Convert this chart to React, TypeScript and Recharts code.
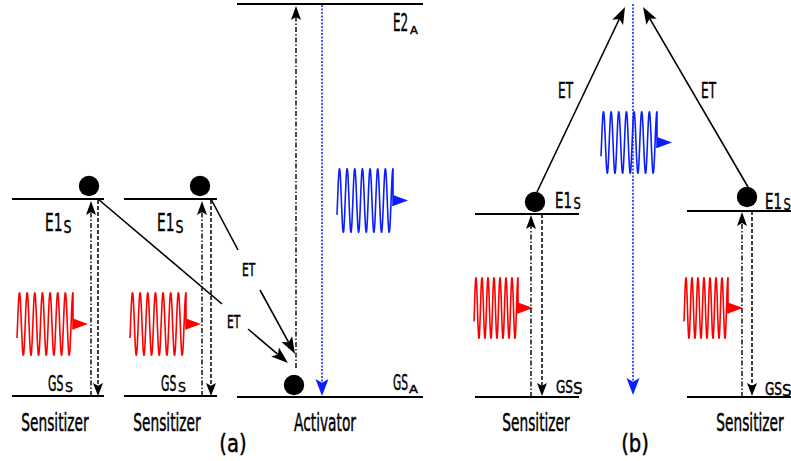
import React from 'react';
import { ScatterChart, XAxis, YAxis, ReferenceLine, ReferenceArea, Scatter } from 'recharts';

const WIDTH = 791;
const HEIGHT = 461;

// Diagram coordinates: x runs left to right, y runs top to bottom (higher energy = smaller y).
const levels = [
  { id: 'a-s1-E1', x1: 12, x2: 104, y: 199 },
  { id: 'a-s1-GS', x1: 12, x2: 104, y: 396 },
  { id: 'a-s2-E1', x1: 124, x2: 217, y: 199 },
  { id: 'a-s2-GS', x1: 124, x2: 217, y: 396 },
  { id: 'a-act-E2', x1: 237, x2: 423, y: 4 },
  { id: 'a-act-GS', x1: 237, x2: 423, y: 397 },
  { id: 'b-s1-E1', x1: 475, x2: 579, y: 214 },
  { id: 'b-s1-GS', x1: 475, x2: 579, y: 397 },
  { id: 'b-s2-E1', x1: 687, x2: 791, y: 211 },
  { id: 'b-s2-GS', x1: 687, x2: 791, y: 397 },
];

const electrons = [
  { x: 89, y: 186 },
  { x: 200, y: 186 },
  { x: 294, y: 385 },
  { x: 535, y: 202 },
  { x: 747, y: 197 },
];

// absorb = dash-dot excitation, relax = dashed decay, transfer = energy transfer (ET),
// link = ET path segment without head, emit = upconverted emission
const transitions = [
  { x1: 91, y1: 396, x2: 91, y2: 201, kind: 'absorb' },
  { x1: 98, y1: 200, x2: 98, y2: 396, kind: 'relax' },
  { x1: 202, y1: 396, x2: 202, y2: 201, kind: 'absorb' },
  { x1: 211, y1: 200, x2: 211, y2: 396, kind: 'relax' },
  { x1: 98, y1: 199, x2: 222, y2: 304, kind: 'link' },
  { x1: 248, y1: 329, x2: 288, y2: 363, kind: 'transfer' },
  { x1: 211, y1: 199, x2: 238, y2: 250, kind: 'link' },
  { x1: 260, y1: 290, x2: 295, y2: 354, kind: 'transfer' },
  { x1: 296, y1: 368, x2: 296, y2: 6, kind: 'absorb' },
  { x1: 322, y1: 5, x2: 322, y2: 396, kind: 'emit' },
  { x1: 531, y1: 397, x2: 531, y2: 215, kind: 'absorb' },
  { x1: 542, y1: 214, x2: 542, y2: 396, kind: 'relax' },
  { x1: 742, y1: 397, x2: 742, y2: 212, kind: 'absorb' },
  { x1: 752, y1: 211, x2: 752, y2: 396, kind: 'relax' },
  { x1: 537, y1: 192, x2: 625, y2: 7, kind: 'transfer' },
  { x1: 748, y1: 187, x2: 643, y2: 7, kind: 'transfer' },
  { x1: 633, y1: 4, x2: 633, y2: 395, kind: 'emit' },
];

// Photon wave packets: box spanned by the oscillation (start to last crest, crest to trough)
const photons = [
  { x1: 17, x2: 73, y1: 292, y2: 356, kind: 'pump' },
  { x1: 130, x2: 186, y1: 292, y2: 356, kind: 'pump' },
  { x1: 337, x2: 393, y1: 168, y2: 233, kind: 'emission' },
  { x1: 474, x2: 518, y1: 277, y2: 339, kind: 'pump' },
  { x1: 684, x2: 728, y1: 277, y2: 339, kind: 'pump' },
  { x1: 601, x2: 657, y1: 111, y2: 174, kind: 'emission' },
];

const labels = [
  { text: 'Sensitizer', x: 55, y: 431, kind: 'species' },
  { text: 'Sensitizer', x: 167, y: 431, kind: 'species' },
  { text: 'Activator', x: 325, y: 431, kind: 'species' },
  { text: 'Sensitizer', x: 536, y: 431, kind: 'species' },
  { text: 'Sensitizer', x: 750, y: 431, kind: 'species' },
  { text: '(a)', x: 233, y: 452, kind: 'panel' },
  { text: '(b)', x: 635, y: 452, kind: 'panel' },
  { text: 'E1', sub: 'S', x: 45, y: 231, kind: 'stateA' },
  { text: 'E1', sub: 'S', x: 157, y: 231, kind: 'stateA' },
  { text: 'GS', sub: 'S', x: 48, y: 391, kind: 'groundA' },
  { text: 'GS', sub: 'S', x: 161, y: 391, kind: 'groundA' },
  { text: 'E2', sub: 'A', x: 393, y: 31, kind: 'activator' },
  { text: 'GS', sub: 'A', x: 393, y: 390, kind: 'activatorGround' },
  { text: 'ET', x: 242, y: 276, kind: 'etA' },
  { text: 'ET', x: 227, y: 328, kind: 'etA' },
  { text: 'ET', x: 558, y: 98, kind: 'etB' },
  { text: 'ET', x: 701, y: 98, kind: 'etB' },
  { text: 'E1', sub: 'S', x: 555, y: 208, kind: 'stateB' },
  { text: 'GS', sub: 'S', x: 556, y: 393, kind: 'groundB' },
  { text: 'E1', sub: 'S', x: 765, y: 209, kind: 'stateB' },
  { text: 'GS', sub: 'S', x: 765, y: 395, kind: 'groundB' },
];

const FONT = '"DejaVu Sans", Verdana, sans-serif';
const BLUE = '#0a1eff';
const RED = '#ff0000';

type TextStyle = {
  size: number; sx: number; anchor?: 'start' | 'middle';
  sub?: number; subSx?: number; subDx?: number; subDy?: number;
};

const textStyles: Record<string, TextStyle> = {
  species: { size: 25, sx: 0.55, anchor: 'middle' },
  panel: { size: 24.5, sx: 0.8, anchor: 'middle' },
  stateA: { size: 25, sx: 0.55, sub: 18, subSx: 0.7, subDx: 18.5, subDy: 2 },
  groundA: { size: 20.5, sx: 0.53, sub: 14, subSx: 0.9, subDx: 17, subDy: 1 },
  activator: { size: 25, sx: 0.48, sub: 10.5, subSx: 1.1, subDx: 17, subDy: 3 },
  activatorGround: { size: 20.5, sx: 0.52, sub: 11, subSx: 1.2, subDx: 16, subDy: 3 },
  etA: { size: 17.5, sx: 0.61 },
  etB: { size: 20.5, sx: 0.59 },
  stateB: { size: 20.5, sx: 0.65, sub: 16.5, subSx: 0.7, subDx: 18.5, subDy: 1 },
  groundB: { size: 18, sx: 0.67, sub: 16, subSx: 0.95, subDx: 17, subDy: 1 },
};

type ArrowStyle = {
  color: string; width: number; dash?: string;
  head?: { len: number; half: number };
};

const arrowStyles: Record<string, ArrowStyle> = {
  absorb: { color: '#000', width: 1.4, dash: '5 2 1.5 2', head: { len: 14, half: 5 } },
  relax: { color: '#000', width: 1.5, dash: '4 2', head: { len: 13, half: 5 } },
  transfer: { color: '#000', width: 1.6, head: { len: 17, half: 6 } },
  link: { color: '#000', width: 1.6 },
  emit: { color: BLUE, width: 1.5, dash: '2 1.5', head: { len: 17, half: 6.5 } },
};

const photonStyles: Record<string, { color: string; headLen: number; headHalf: number }> = {
  pump: { color: RED, headLen: 15, headHalf: 5.5 },
  emission: { color: BLUE, headLen: 15, headHalf: 5.5 },
};

const arrowShape = (kind: string) => (p: any) => {
  const st = arrowStyles[kind];
  const x1 = Number(p.x1), y1 = Number(p.y1), x2 = Number(p.x2), y2 = Number(p.y2);
  const dx = x2 - x1, dy = y2 - y1;
  const L = Math.hypot(dx, dy) || 1;
  const ux = dx / L, uy = dy / L;
  const px = -uy, py = ux;
  let ex = x2, ey = y2;
  let head: React.ReactNode = null;
  if (st.head) {
    const { len, half } = st.head;
    const bx = x2 - ux * len, by = y2 - uy * len;
    const nx = x2 - ux * len * 0.78, ny = y2 - uy * len * 0.78;
    ex = nx; ey = ny;
    head = (
      <path
        d={`M${x2},${y2} L${bx + px * half},${by + py * half} L${nx},${ny} L${bx - px * half},${by - py * half} Z`}
        fill={st.color}
        stroke="none"
      />
    );
  }
  return (
    <g>
      <line x1={x1} y1={y1} x2={ex} y2={ey} stroke={st.color} strokeWidth={st.width}
        strokeDasharray={st.dash} fill="none" />
      {head}
    </g>
  );
};

const waveShape = (kind: string) => (p: any) => {
  const st = photonStyles[kind];
  const x = Number(p.x), y = Number(p.y), w = Number(p.width), h = Number(p.height);
  const mid = y + h / 2;
  const amp = h / 2 - 0.8;
  const t0 = -0.466;
  const t1 = Math.PI / 2 + 14 * Math.PI;
  const steps = 420;
  let d = '';
  for (let i = 0; i <= steps; i++) {
    const t = t0 + ((t1 - t0) * i) / steps;
    const xx = x + ((t - t0) / (t1 - t0)) * w;
    const yy = mid - amp * Math.sin(t);
    d += `${i === 0 ? 'M' : 'L'}${xx.toFixed(2)},${yy.toFixed(2)} `;
  }
  const xe = x + w;
  d += `L${xe},${mid + st.headHalf}`;
  return (
    <g>
      <path d={d} fill="none" stroke={st.color} strokeWidth={1.6} strokeLinejoin="round" />
      <path
        d={`M${xe},${mid - st.headHalf} L${xe + st.headLen},${mid} L${xe},${mid + st.headHalf} Z`}
        fill={st.color}
      />
    </g>
  );
};

const ElectronShape = (p: any) => <circle cx={p.cx} cy={p.cy} r={10.2} fill="#000" />;

const LabelShape = (p: any) => {
  const d = p.payload;
  const st = textStyles[d.kind];
  const cx = Number(p.cx), cy = Number(p.cy);
  return (
    <g>
      <text
        transform={`translate(${cx} ${cy}) scale(${st.sx} 1)`}
        x={0}
        y={0}
        textAnchor={st.anchor || 'start'}
        fontFamily={FONT}
        fontSize={st.size}
        fill="#000"
        stroke="#000"
        strokeWidth={0.5}
      >
        {d.text}
      </text>
      {d.sub && st.sub ? (
        <text
          transform={`translate(${cx + (st.subDx || 0)} ${cy + (st.subDy || 0)}) scale(${st.subSx} 1)`}
          x={0}
          y={0}
          fontFamily={FONT}
          fontSize={st.sub}
          fill="#000"
          stroke="#000"
          strokeWidth={0.4}
        >
          {d.sub}
        </text>
      ) : null}
    </g>
  );
};

export default function App() {
  return (
    <div style={{ position: 'absolute', left: 0, top: 0, width: WIDTH, height: HEIGHT, background: '#fff' }}>
      <ScatterChart width={WIDTH} height={HEIGHT} margin={{ top: 0, right: 0, bottom: 0, left: 0 }}>
        <XAxis type="number" dataKey="x" domain={[0, WIDTH]} allowDataOverflow hide />
        <YAxis type="number" dataKey="y" domain={[0, HEIGHT]} allowDataOverflow reversed hide />
        {levels.map((lv) => (
          <ReferenceLine
            key={lv.id}
            segment={[{ x: lv.x1, y: lv.y }, { x: lv.x2, y: lv.y }]}
            stroke="#000"
            strokeWidth={2}
            ifOverflow="visible"
          />
        ))}
        {photons.map((ph, i) => (
          <ReferenceArea
            key={`ph-${i}`}
            x1={ph.x1}
            x2={ph.x2}
            y1={ph.y1}
            y2={ph.y2}
            ifOverflow="visible"
            shape={waveShape(ph.kind)}
          />
        ))}
        {transitions.map((tr, i) => (
          <ReferenceLine
            key={`tr-${i}`}
            segment={[{ x: tr.x1, y: tr.y1 }, { x: tr.x2, y: tr.y2 }]}
            ifOverflow="visible"
            shape={arrowShape(tr.kind)}
          />
        ))}
        <Scatter data={electrons} shape={ElectronShape} isAnimationActive={false} />
        <Scatter data={labels} shape={LabelShape} isAnimationActive={false} />
      </ScatterChart>
    </div>
  );
}
